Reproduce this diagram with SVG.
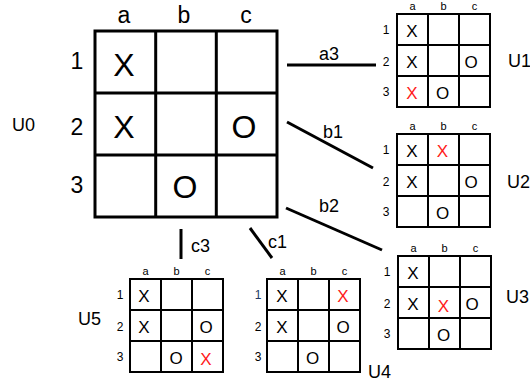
<svg xmlns="http://www.w3.org/2000/svg" xmlns:xlink="http://www.w3.org/1999/xlink" width="530" height="385" viewBox="0 0 530 385">
<style>
text{font-family:"Liberation Sans",Arial,sans-serif;fill:#000}
.big{font-size:32px;text-anchor:middle}
.hdr{font-size:23px;text-anchor:middle}
.lab{font-size:18px}
.sm{font-size:17px;text-anchor:middle}
.sh{font-size:11px;text-anchor:middle}
.sr{font-size:12px;text-anchor:middle}
.edge{font-size:18px}
.red{fill:#ff1a1a}
.conn line{stroke:#000;stroke-width:3}
</style>
<defs>
<g id="sg" fill="none" stroke="#000" stroke-width="2">
<rect x="0" y="0" width="93" height="93"/>
<line x1="31" y1="0" x2="31" y2="93"/>
<line x1="62" y1="0" x2="62" y2="93"/>
<line x1="0" y1="31" x2="93" y2="31"/>
<line x1="0" y1="62" x2="93" y2="62"/>
</g>
<g id="sl">
<text class="sh" x="15.5" y="-4">a</text>
<text class="sh" x="46.5" y="-4">b</text>
<text class="sh" x="77.5" y="-4">c</text>
<text class="sr" x="-11" y="20">1</text>
<text class="sr" x="-11" y="51.5">2</text>
<text class="sr" x="-11" y="82">3</text>
</g>
</defs>
<rect width="530" height="385" fill="#fff"/>

<g id="U0">
<g fill="none" stroke="#000" stroke-width="3">
<rect x="95" y="31" width="182" height="186"/>
<line x1="155.7" y1="31" x2="155.7" y2="217"/>
<line x1="216.3" y1="31" x2="216.3" y2="217"/>
<line x1="95" y1="93" x2="277" y2="93"/>
<line x1="95" y1="155" x2="277" y2="155"/>
</g>
<text class="hdr" x="124" y="23">a</text>
<text class="hdr" x="184" y="23">b</text>
<text class="hdr" x="246" y="23">c</text>
<text class="hdr" x="77" y="69">1</text>
<text class="hdr" x="77" y="135">2</text>
<text class="hdr" x="77" y="193">3</text>
<text class="big" x="124" y="76">X</text>
<text class="big" x="124" y="138">X</text>
<text class="big" x="244" y="138">O</text>
<text class="big" x="185" y="198">O</text>
<text class="lab" x="12" y="131">U0</text>
</g>

<g id="U1" transform="translate(397,14)">
<use xlink:href="#sg"/><use xlink:href="#sl"/>
<text class="sm" x="15" y="23">X</text>
<text class="sm" x="15" y="54">X</text>
<text class="sm" x="74" y="54">O</text>
<text class="sm red" x="15" y="85">X</text>
<text class="sm" x="45.5" y="85">O</text>
<text class="lab" x="111" y="53">U1</text>
</g>

<g id="U2" transform="translate(397,134)">
<use xlink:href="#sg"/><use xlink:href="#sl"/>
<text class="sm" x="15" y="23">X</text>
<text class="sm red" x="45.5" y="23">X</text>
<text class="sm" x="15" y="54">X</text>
<text class="sm" x="74" y="54">O</text>
<text class="sm" x="45.5" y="85">O</text>
<text class="lab" x="110" y="54">U2</text>
</g>

<g id="U3" transform="translate(398,256)">
<use xlink:href="#sg"/><use xlink:href="#sl"/>
<text class="sm" x="15" y="23">X</text>
<text class="sm" x="15" y="54">X</text>
<text class="sm red" x="45.5" y="56">X</text>
<text class="sm" x="74" y="54">O</text>
<text class="sm" x="45.5" y="85">O</text>
<text class="lab" x="108" y="47">U3</text>
</g>

<g id="U4" transform="translate(267,279)">
<use xlink:href="#sg"/>
<text class="sh" x="15.5" y="-4">a</text>
<text class="sh" x="46.5" y="-4">b</text>
<text class="sh" x="77.5" y="-4">c</text>
<text class="sr" x="-9" y="20" style="fill:#203864">1</text>
<text class="sr" x="-9" y="51.5">2</text>
<text class="sr" x="-9" y="82">3</text>
<text class="sm" x="15" y="23">X</text>
<text class="sm red" x="76" y="23">X</text>
<text class="sm" x="15" y="54">X</text>
<text class="sm" x="76" y="54">O</text>
<text class="sm" x="45.5" y="85">O</text>
<text class="lab" x="101" y="99">U4</text>
</g>

<g id="U5" transform="translate(130,279)">
<use xlink:href="#sg"/>
<text class="sh" x="15.5" y="-4">a</text>
<text class="sh" x="46.5" y="-4">b</text>
<text class="sh" x="77.5" y="-4">c</text>
<text class="sr" x="-10" y="20">1</text>
<text class="sr" x="-10" y="51.5">2</text>
<text class="sr" x="-10" y="82">3</text>
<text class="sm" x="14" y="23">X</text>
<text class="sm" x="14" y="54">X</text>
<text class="sm" x="76" y="54">O</text>
<text class="sm" x="46" y="85">O</text>
<text class="sm red" x="76" y="86">X</text>
<text class="lab" x="-52" y="46">U5</text>
</g>

<g id="connectors" class="conn">
<line x1="287" y1="65" x2="376" y2="65"/>
<line x1="287" y1="122" x2="373" y2="168"/>
<line x1="286" y1="208" x2="382" y2="250"/>
<line x1="181" y1="229" x2="181" y2="259"/>
<line x1="250" y1="228" x2="272" y2="258"/>
<text class="edge" x="329" y="60" text-anchor="middle">a3</text>
<text class="edge" x="333" y="138" text-anchor="middle">b1</text>
<text class="edge" x="329" y="212" text-anchor="middle">b2</text>
<text class="edge" x="191" y="252">c3</text>
<text class="edge" x="268" y="248">c1</text>
</g>
</svg>
